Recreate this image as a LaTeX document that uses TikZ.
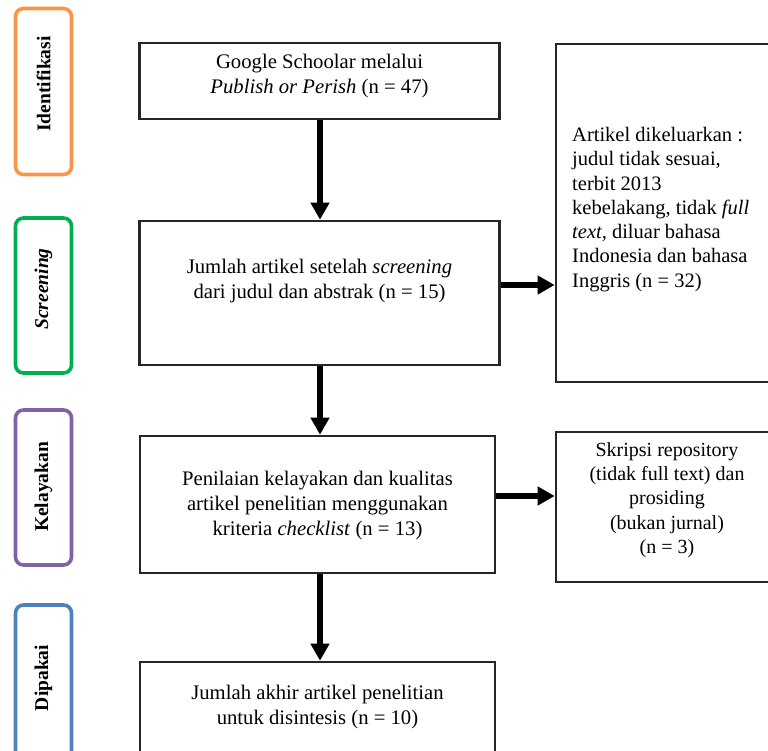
\documentclass[tikz,border=0pt]{standalone}
\usepackage{fontspec}
\setmainfont{Liberation Serif}
\usetikzlibrary{arrows.meta}
\definecolor{cOrange}{HTML}{F79646}
\definecolor{cGreen}{HTML}{00B050}
\definecolor{cPurple}{HTML}{8064A2}
\definecolor{cBlue}{HTML}{4F81BD}
\tikzset{
  mainbox/.style={draw=black!85, line width=2.6pt, rectangle, inner sep=0pt},
  sidebox/.style={line width=3.6pt, rounded corners=8pt, rectangle, inner sep=0pt, minimum width=56pt},
  sidelabel/.style={rotate=90, font=\fontsize{19.5}{22}\selectfont\bfseries, inner sep=0pt},
  txt/.style={align=center, font=\fontsize{20.7}{25}\selectfont, inner sep=0pt},
  ltxt/.style={align=left, font=\fontsize{20.5}{24.3}\selectfont, inner sep=0pt},
  arr/.style={line width=5.5pt, -{Triangle[width=18pt,length=17pt]}},
}
\begin{document}
\begin{tikzpicture}[x=1pt,y=-1pt]
\useasboundingbox (0,0) rectangle (768,751);
\clip (0,0) rectangle (768,751);
% side phase boxes
\node[sidebox, draw=cOrange, minimum height=166pt] (sb1) at (43.5,91.5) {};
\node[sidebox, draw=cGreen, minimum height=155pt] (sb2) at (43.5,295.5) {};
\node[sidebox, draw=cPurple, minimum height=155pt] (sb3) at (43.5,487.5) {};
\node[sidebox, draw=cBlue, minimum height=170pt] (sb4) at (43.5,690) {};
\node[sidelabel] (l1) at (43.5,84) {Identifikasi};
\node[sidelabel] (l2) at (43.5,289) {\itshape Screening};
\node[sidelabel] (l3) at (43.5,487) {Kelayakan};
\node[sidelabel] (l4) at (43.5,678) {Dipakai};
% main boxes
\node[mainbox, minimum width=360pt, minimum height=76pt] (b1) at (319.5,81) {};
\node[mainbox, minimum width=360pt, minimum height=144pt] (b2) at (319.5,293) {};
\node[mainbox, minimum width=355pt, minimum height=137pt] (b3) at (317.5,504.5) {};
\node[mainbox, minimum width=355pt, minimum height=130pt] (b4) at (317.5,727) {};
\node[mainbox, minimum width=240pt, minimum height=338pt] (r1) at (676,213) {};
\node[mainbox, minimum width=240pt, minimum height=150pt] (r2) at (676,507) {};
% texts
\node[txt] (t1) at (319.5,76) {Google Schoolar melalui\\\textit{Publish or Perish} (n = 47)};
\node[txt] (t2) at (319.5,281) {Jumlah artikel setelah \textit{screening}\\dari judul dan abstrak (n = 15)};
\node[txt] (t3) at (317.5,506) {Penilaian kelayakan dan kualitas\\artikel penelitian menggunakan\\kriteria \textit{checklist} (n = 13)};
\node[txt] (t4) at (317.5,707) {Jumlah akhir artikel penelitian\\untuk disintesis (n = 10)};
\node[ltxt, anchor=north west] (t5) at (572,127) {Artikel dikeluarkan :\\judul tidak sesuai,\\terbit 2013\\kebelakang, tidak \textit{full}\\\textit{text,} diluar bahasa\\Indonesia dan bahasa\\Inggris (n = 32)};
\node[txt, font=\fontsize{20}{24.3}\selectfont] (t6) at (667,500) {Skripsi repository\\(tidak full text) dan\\prosiding\\(bukan jurnal)\\(n = 3)};
% connector anchors
\coordinate (col) at (320,0);
\coordinate (e2) at ([yshift=8pt]b2.east);
\coordinate (e3) at ([yshift=8.5pt]b3.east);
% connectors
\draw[arr] (b1.south -| col) -- (b2.north -| col);
\draw[arr] (b2.south -| col) -- (b3.north -| col);
\draw[arr] (b3.south -| col) -- (b4.north -| col);
\draw[arr] (e2) -- (e2 -| r1.west);
\draw[arr] (e3) -- (e3 -| r2.west);
\end{tikzpicture}
\end{document}
